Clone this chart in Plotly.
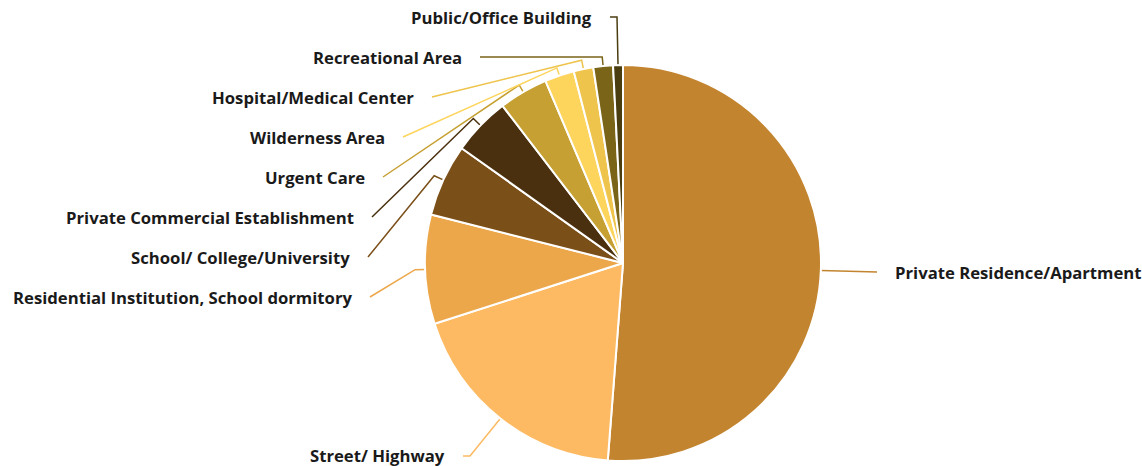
import math
import plotly.graph_objects as go

# ---- data ----
categories = [
    "Private Residence/Apartment",
    "Street/ Highway",
    "Residential Institution, School dormitory",
    "School/ College/University",
    "Private Commercial Establishment",
    "Urgent Care",
    "Wilderness Area",
    "Hospital/Medical Center",
    "Recreational Area",
    "Public/Office Building",
]
values = [51.2, 18.8, 8.9, 5.9, 4.75, 4.0, 2.4, 1.6, 1.6, 0.8]

# ---- styles ----
colors = ["#C3842F", "#FDBA62", "#EDA74B", "#7B4F18", "#4A300E",
          "#C6A032", "#FDD45C", "#EEC44C", "#7A6418", "#4A3D10"]

W, H = 1142, 466
cx, cy, R = 623, 263, 198

# label layout: (line end x, line end y, side, radial extension, tail, text y offset)
label_layout = [
    (877, 272, "left", 0, 0, 0),
    (463, 456, "right", 4, 7, -1),
    (370, 297, "right", 10, 0, 0),
    (368, 257, "right", 10, 0, 0),
    (372, 217, "right", 10, 0, 0),
    (383, 177, "right", 8, 0, 0),
    (403, 137, "right", 8, 0, 0),
    (432, 97, "right", 9, 0, 0),
    (480, 57, "right", 9, 0, 0),
    (610, 17, "right", 48, 7, 0),
]
text_gap = 16

fig = go.Figure()
fig.add_trace(go.Pie(
    labels=categories, values=values, sort=False, direction="clockwise",
    rotation=0, textinfo="none", hoverinfo="label+percent",
    marker=dict(colors=colors, line=dict(color="white", width=2)),
    domain=dict(x=[(cx - R) / W, (cx + R) / W],
                y=[(H - (cy + R)) / H, (H - (cy - R)) / H]),
    showlegend=False,
))

total = sum(values)
cum = 0.0
annotations = []
for cat, v, col, (lx, ly, side, ext, tail, dy) in zip(categories, values, colors, label_layout):
    mid = (cum + v / 2) / total * 2 * math.pi
    cum += v
    x0 = cx + R * math.sin(mid)
    y0 = cy - R * math.cos(mid)
    x1 = cx + (R + ext) * math.sin(mid)
    y1 = cy - (R + ext) * math.cos(mid)
    sgn = 1 if side == "right" else -1
    xs = [x0, x1, lx + sgn * tail, lx]
    ys = [y0, y1, ly, ly]
    fig.add_trace(go.Scatter(x=xs, y=ys, mode="lines", line=dict(color=col, width=1.5),
                             hoverinfo="skip", showlegend=False))
    annotations.append(dict(
        x=lx - sgn * text_gap, y=ly + dy, xref="x", yref="y", text=cat, showarrow=False,
        xanchor=side, yanchor="middle",
        font=dict(family="Open Sans", size=16.7, color="#1a1a1a", weight="bold"),
    ))

fig.update_layout(
    width=W, height=H, margin=dict(l=0, r=0, t=0, b=0),
    paper_bgcolor="white", plot_bgcolor="rgba(0,0,0,0)",
    xaxis=dict(range=[0, W], visible=False, fixedrange=True),
    yaxis=dict(range=[H, 0], visible=False, fixedrange=True),
    annotations=annotations,
)
fig.write_html(
    "out.html",
    config={"displayModeBar": False},
    post_script="document.body.style.margin='0';document.body.style.overflow='hidden';",
)
